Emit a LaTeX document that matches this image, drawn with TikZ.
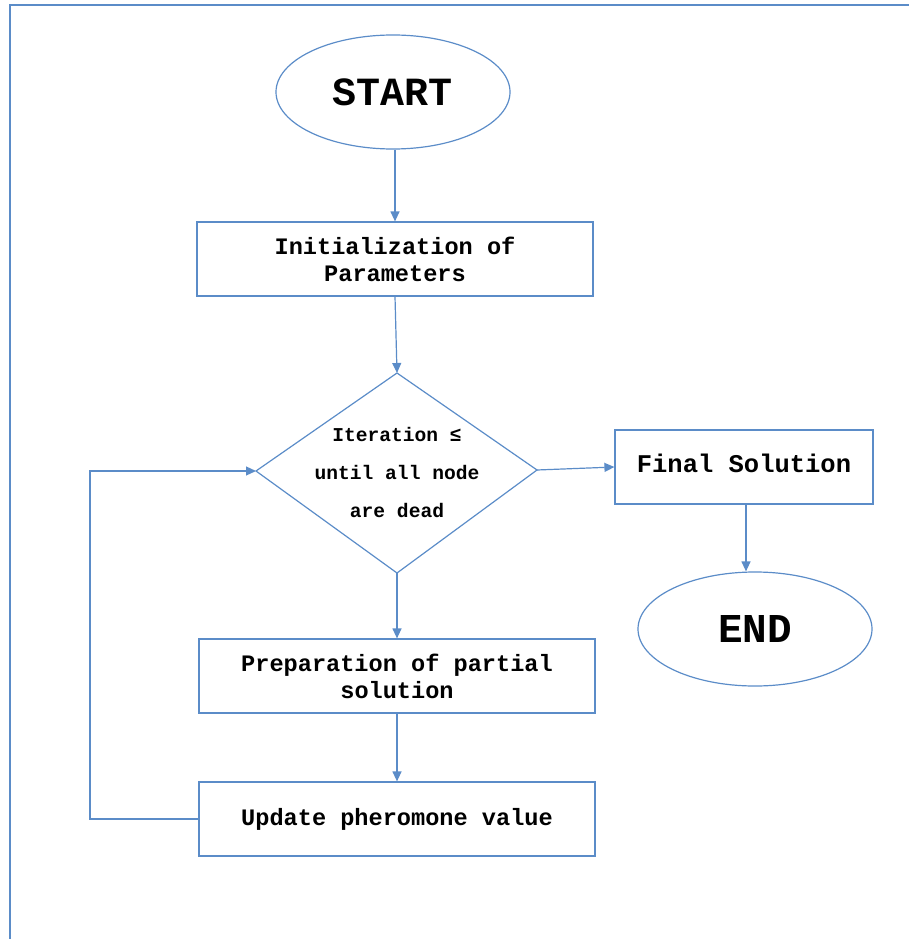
\documentclass[tikz,border=0pt]{standalone}
\usepackage{fontspec}
\setmonofont{Liberation Mono}
\usetikzlibrary{shapes.geometric,arrows.meta}
\definecolor{wblue}{HTML}{5B8CC8}
\tikzset{
  shape line/.style={draw=wblue, line width=1.2pt},
  boxnode/.style={shape line, rectangle, minimum width=396pt, minimum height=74pt, inner sep=0pt, align=center, font=\ttfamily\bfseries\fontsize{23.6}{27}\selectfont},
  ovalnode/.style={shape line, ellipse, minimum width=234pt, minimum height=114pt, inner sep=0pt, font=\ttfamily\bfseries\fontsize{40}{44}\selectfont},
  flow/.style={draw=wblue, line width=1.2pt, -{Triangle[width=9pt,length=10pt]}}
}
\begin{document}
\begin{tikzpicture}[x=1pt,y=-1pt]
\useasboundingbox (0,0) rectangle (909,939);
\draw[wblue, line width=2pt] (10,939) -- (10,5) -- (909,5);

\node[ovalnode] (start) at (393,92) {START};
\node[boxnode] (init) at (395,259) {Initialization of\\Parameters};
\coordinate (dT) at (397,373);
\coordinate (dL) at (256,471);
\coordinate (dR) at (537,470);
\coordinate (dB) at (397,573);
\draw[shape line] (dT) -- (dR) -- (dB) -- (dL) -- cycle;
\node[font=\ttfamily\bfseries\fontsize{19.6}{38}\selectfont, align=center] (dtext) at (397,472) {Iteration ≤\\until all node\\are dead};
\node[shape line, rectangle, minimum width=258pt, minimum height=74pt, inner sep=0pt] (final) at (744,467) {};
\node[font=\ttfamily\bfseries\fontsize{25.5}{30}\selectfont] (finaltext) at (744,463) {Final Solution};
\node[ovalnode, font=\ttfamily\bfseries\fontsize{41}{44}\selectfont] (end) at (755,629) {END};
\node[boxnode] (prep) at (397,676) {Preparation of partial\\solution};
\node[boxnode] (upd) at (397,819) {Update pheromone value};

\draw[flow] (start.south -| init.north) -- (init.north);
\draw[flow] (init.south) -- (dT);
\draw[flow] (dR) -- (final.west);
\coordinate (fs) at (746,504);
\draw[flow] (fs) -- (fs |- end.north);
\draw[flow] (dB) -- (prep.north);
\draw[flow] (prep.south) -- (upd.north);
\coordinate (loopA) at (90,819);
\coordinate (loopB) at (90,471);
\draw[flow] (upd.west) -- (loopA) -- (loopB) -- (dL);
\end{tikzpicture}
\end{document}
